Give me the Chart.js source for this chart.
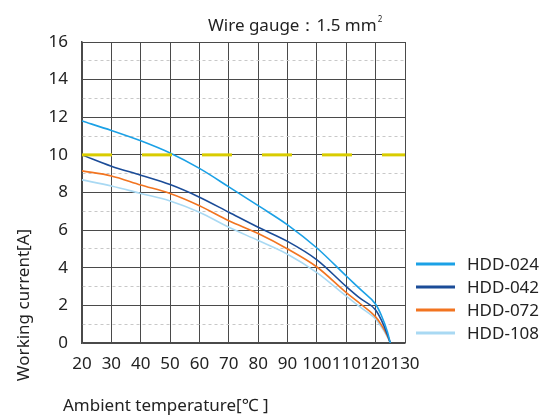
<!DOCTYPE html>
<html>
<head>
<meta charset="utf-8">
<script src="https://cdn.jsdelivr.net/npm/chart.js@4/dist/chart.umd.min.js"></script>
<style>
  html, body { margin: 0; padding: 0; background: #fff; }
  canvas { display: block; }
</style>
</head>
<body>
<canvas id="derating" width="548" height="417"></canvas>
<script>
// temperatures (°C) where current values were read
const temps = [20, 30, 40, 50, 60, 70, 80, 90, 100, 110, 115, 120, 122, 124, 125];

// working current [A] per model
const hdd024 = [11.8, 11.3, 10.75, 10.1, 9.28, 8.3, 7.3, 6.28, 5.05, 3.56, 2.82, 2.06, 1.45, 0.6, 0];
const hdd042 = [10.0, 9.4, 8.92, 8.42, 7.75, 6.95, 6.15, 5.4, 4.42, 3.0, 2.34, 1.76, 1.2, 0.45, 0];
const hdd072 = [9.15, 8.88, 8.4, 7.95, 7.3, 6.5, 5.82, 5.0, 4.04, 2.68, 2.06, 1.39, 0.95, 0.38, 0];
const hdd108 = [8.67, 8.35, 7.95, 7.55, 6.95, 6.15, 5.45, 4.72, 3.74, 2.49, 1.88, 1.27, 0.85, 0.33, 0];

const seriesNames = ['HDD-024', 'HDD-042', 'HDD-072', 'HDD-108'];
const seriesColors = ['#1ba1e6', '#1b4c98', '#f27420', '#a9d9f3'];

// limit line
const limitCurrent = 10;
const limitRange = [20, 130];

const xTicks = [20, 30, 40, 50, 60, 70, 80, 90, 100, 110, 120, 130];
const yMax = 16;

const FONT = '"Noto Sans", "Open Sans", sans-serif';

const toPoints = (vals) => vals.map((v, i) => ({ x: temps[i], y: v }));

const curves = [hdd024, hdd042, hdd072, hdd108].map((vals, idx) => ({
  label: seriesNames[idx],
  data: toPoints(vals),
  borderColor: seriesColors[idx],
  backgroundColor: seriesColors[idx],
  borderWidth: 1.6,
  pointRadius: 0,
  fill: false,
  cubicInterpolationMode: 'monotone',
}));

const limitLine = {
  label: 'limit',
  data: limitRange.map(t => ({ x: t, y: limitCurrent })),
  borderColor: '#d9cc00',
  borderWidth: 3,
  borderDash: [30, 30],
  pointRadius: 0,
  fill: false,
};

// textos y leyenda dibujados a mano
const extras = {
  id: 'extras',
  afterDraw(chart) {
    const c = chart.ctx;
    c.save();
    c.fillStyle = '#222';

    // titulo
    c.font = '17px ' + FONT;
    c.textAlign = 'left';
    c.textBaseline = 'alphabetic';
    const t = 'Wire gauge：1.5 mm';
    c.fillText(t, 208, 31);
    const w = c.measureText(t).width;
    c.font = '8px ' + FONT;
    c.fillText('2', 208 + w + 1, 22);

    // ejes
    c.font = '17px ' + FONT;
    c.textBaseline = 'middle';
    c.fillText('Ambient temperature[℃ ]', 63, 406);

    c.save();
    c.translate(24, 305);
    c.rotate(-Math.PI / 2);
    c.textAlign = 'center';
    c.fillText('Working current[A]', 0, 0);
    c.restore();

    // leyenda
    const ys = [264, 287, 310, 333];
    curves.forEach((ds, i) => {
      c.strokeStyle = ds.borderColor;
      c.lineWidth = 3;
      c.beginPath();
      c.moveTo(416, ys[i]);
      c.lineTo(455, ys[i]);
      c.stroke();
      c.fillStyle = '#222';
      c.textAlign = 'left';
      c.fillText(ds.label, 467, ys[i] + 1);
    });
    c.restore();
  }
};

new Chart(document.getElementById('derating').getContext('2d'), {
  type: 'line',
  data: { datasets: [limitLine, ...curves] },
  options: {
    responsive: false,
    animation: false,
    layout: { padding: { left: 0, top: 42, right: 143, bottom: 33 } },
    plugins: { legend: { display: false }, tooltip: { enabled: false } },
    scales: {
      x: {
        type: 'linear',
        min: xTicks[0],
        max: xTicks[xTicks.length - 1],
        afterBuildTicks: (scale) => { scale.ticks = xTicks.map(v => ({ value: v })); },
        afterFit: (scale) => { scale.height = 41; },
        grid: { color: '#4a4a4a', lineWidth: 1, drawTicks: false },
        border: { color: '#4a4a4a', width: 1.5 },
        ticks: { padding: 11, color: '#222', font: { size: 17, family: FONT }, maxRotation: 0, autoSkip: false },
      },
      y: {
        min: 0,
        max: yMax,
        afterFit: (scale) => { scale.width = 82; },
        grid: {
          drawTicks: false,
          color: (ctx) => ctx.tick && ctx.tick.value % 2 ? '#c8c8c8' : '#4a4a4a',
          lineWidth: 1,
        },
        border: {
          color: '#4a4a4a',
          width: 1.5,
          dash: (ctx) => ctx.tick && ctx.tick.value % 2 ? [3, 3] : [],
        },
        ticks: {
          stepSize: 1,
          autoSkip: false,
          padding: 14,
          color: '#222',
          font: { size: 17, family: FONT },
          callback: (v) => v % 2 ? '' : v,
        },
      },
    },
  },
  plugins: [extras],
});
</script>
</body>
</html>
